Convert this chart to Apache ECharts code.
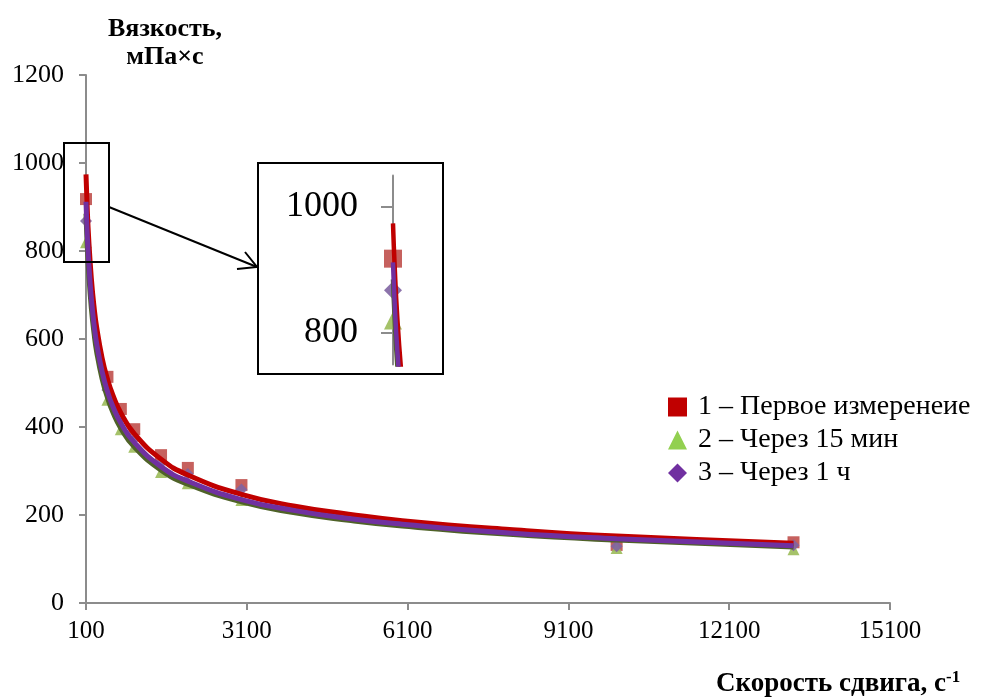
<!DOCTYPE html>
<html>
<head>
<meta charset="utf-8">
<script src="https://cdn.jsdelivr.net/npm/echarts@6/dist/echarts.min.js"></script>
<style>html,body{margin:0;padding:0;background:#fff}#c{width:984px;height:698px}</style>
</head>
<body>
<div id="c"></div>
<script>
// measured shear rates (s^-1) and viscosities (mPa*s)
const shearRates = [100, 500, 750, 1000, 1500, 2000, 3000, 10000, 13300];
const visc1 = [918, 514, 441, 395, 336, 307, 268, 132, 138];
const visc2 = [820, 462, 395, 355, 298, 272, 234, 125, 122];
const visc3 = [868, 484, 420, 372, 318, 293, 258, 129, 131];
// trend lines
const trendX = [100, 120, 150, 200, 250, 300, 400, 500, 600, 750, 1000, 1500, 2000, 3000, 4000, 5000, 6000, 8000, 10000, 13300];
const trend1 = [974, 906, 828, 737, 673, 626, 557, 509, 473, 432, 385, 327, 291, 247, 220, 202, 187, 167, 152, 136];
const trend2 = [885, 822, 752, 670, 613, 570, 510, 467, 434, 397, 355, 302, 270, 230, 205, 188, 175, 156, 143, 127];
const trend3 = [912, 848, 776, 692, 633, 589, 526, 481, 447, 409, 365, 310, 277, 235, 210, 192, 179, 159, 146, 130];
const seriesNames = ['1 – Первое измеренеие', '2 – Через 15 мин', '3 – Через 1 ч'];
const xTicks = [100, 3100, 6100, 9100, 12100, 15100];
const insetTicks = [800, 1000];

const zip = (xs, ys) => xs.map((x, i) => [x, ys[i]]);
const FONT = '"Liberation Serif", "Times New Roman", serif';
const axisGray = '#8c8c8c';
const plain = v => String(v);

const markerColors = ['#C0504D', '#9BBB59', '#8064A2'];
const legendColors = ['#C00000', '#92D050', '#7030A0'];
const symbols = ['rect', 'triangle', 'diamond'];
const pts = [visc1, visc2, visc3];
const trendOrder = [[trend2, '#4F6228'], [trend1, '#C00000'], [trend3, '#7030A0']];

const series = [];
[0, 1].forEach(g => {
  pts.forEach((vals, i) => {
    series.push({
      type: 'scatter', name: seriesNames[i], xAxisIndex: g, yAxisIndex: g,
      data: zip(shearRates, vals), symbol: symbols[i],
      symbolSize: g === 0 ? 12 : 18,
      itemStyle: { color: markerColors[i], opacity: 0.9 },
      z: 2, animation: false
    });
  });
  trendOrder.forEach(([vals, col], k) => {
    series.push({
      type: 'line', name: 'trend' + k, xAxisIndex: g, yAxisIndex: g,
      data: zip(trendX, vals), showSymbol: false, symbol: 'none',
      smooth: true, clip: true,
      lineStyle: { color: col, width: g === 0 ? 5 : 4.5 }, z: 3 + k, animation: false, silent: true
    });
  });
});

const option = {
  backgroundColor: '#fff',
  animation: false,
  grid: [
    { left: 86, right: 94, top: 75, bottom: 95 },
    { left: 393, top: 175.5, width: 50, height: 189 }
  ],
  xAxis: [
    { type: 'value', gridIndex: 0, min: 100, max: 15100,
      axisLine: { show: true, lineStyle: { color: axisGray, width: 2 } },
      axisTick: { show: true, length: 7, customValues: xTicks, lineStyle: { color: axisGray, width: 2 } },
      axisLabel: { customValues: xTicks, formatter: plain, fontSize: 25, fontFamily: FONT, color: '#000', margin: 16 },
      splitLine: { show: false } },
    { type: 'value', gridIndex: 1, min: 100, max: 700, show: false, splitLine: { show: false } }
  ],
  yAxis: [
    { type: 'value', gridIndex: 0, min: 0, max: 1200, interval: 200,
      axisLine: { show: true, lineStyle: { color: axisGray, width: 2 } },
      axisTick: { show: true, length: 7, lineStyle: { color: axisGray, width: 2 } },
      axisLabel: { formatter: plain, fontSize: 26, fontFamily: FONT, color: '#000', margin: 22 },
      splitLine: { show: false } },
    { type: 'value', gridIndex: 1, min: 750, max: 1050,
      axisLine: { show: true, onZero: false, lineStyle: { color: axisGray, width: 2 } },
      axisTick: { show: true, length: 12, customValues: insetTicks, lineStyle: { color: axisGray, width: 2 } },
      axisLabel: { customValues: insetTicks, formatter: plain, fontSize: 36, fontFamily: FONT, color: '#000', margin: 35 },
      splitLine: { show: false } }
  ],
  legend: {
    orient: 'vertical', left: 663, top: 388, itemWidth: 19, itemHeight: 19, itemGap: 5,
    data: seriesNames.map((n, i) => ({ name: n, icon: symbols[i], itemStyle: { color: legendColors[i], opacity: 1 } })),
    textStyle: { fontSize: 28, lineHeight: 28, fontFamily: FONT, color: '#000', padding: [0, 0, 0, 6] }
  },
  graphic: [
    { type: 'text', x: 165, y: 15, z: 10,
      style: { text: 'Вязкость,\nмПа×с', font: 'bold 26px "Liberation Serif", serif', fill: '#000', textAlign: 'center', lineHeight: 28 } },
    { type: 'text', x: 716, y: 669, z: 10,
      style: { text: '{b|Скорость сдвига, с}{s|-1}', fill: '#000',
        rich: { b: { fontSize: 27, fontWeight: 'bold', fontFamily: FONT, fill: '#000', lineHeight: 30 },
                s: { fontSize: 17, fontWeight: 'bold', fontFamily: FONT, fill: '#000', lineHeight: 17, height: 17, verticalAlign: 'top' } } } },
    { type: 'rect', shape: { x: 64, y: 143, width: 45, height: 119 }, z: 10,
      style: { fill: 'none', stroke: '#000', lineWidth: 2 } },
    { type: 'rect', shape: { x: 258, y: 163, width: 185, height: 211 }, z: 10,
      style: { fill: 'none', stroke: '#000', lineWidth: 2 } },
    { type: 'line', shape: { x1: 109, y1: 207, x2: 257, y2: 267 }, z: 10,
      style: { stroke: '#000', lineWidth: 2 } },
    { type: 'polyline', shape: { points: [[245, 252], [257, 267], [237, 269]] }, z: 10,
      style: { fill: 'none', stroke: '#000', lineWidth: 2 } }
  ],
  series: series
};

const chart = echarts.init(document.getElementById('c'), null, { renderer: 'canvas' });
chart.setOption(option);
</script>
</body>
</html>
